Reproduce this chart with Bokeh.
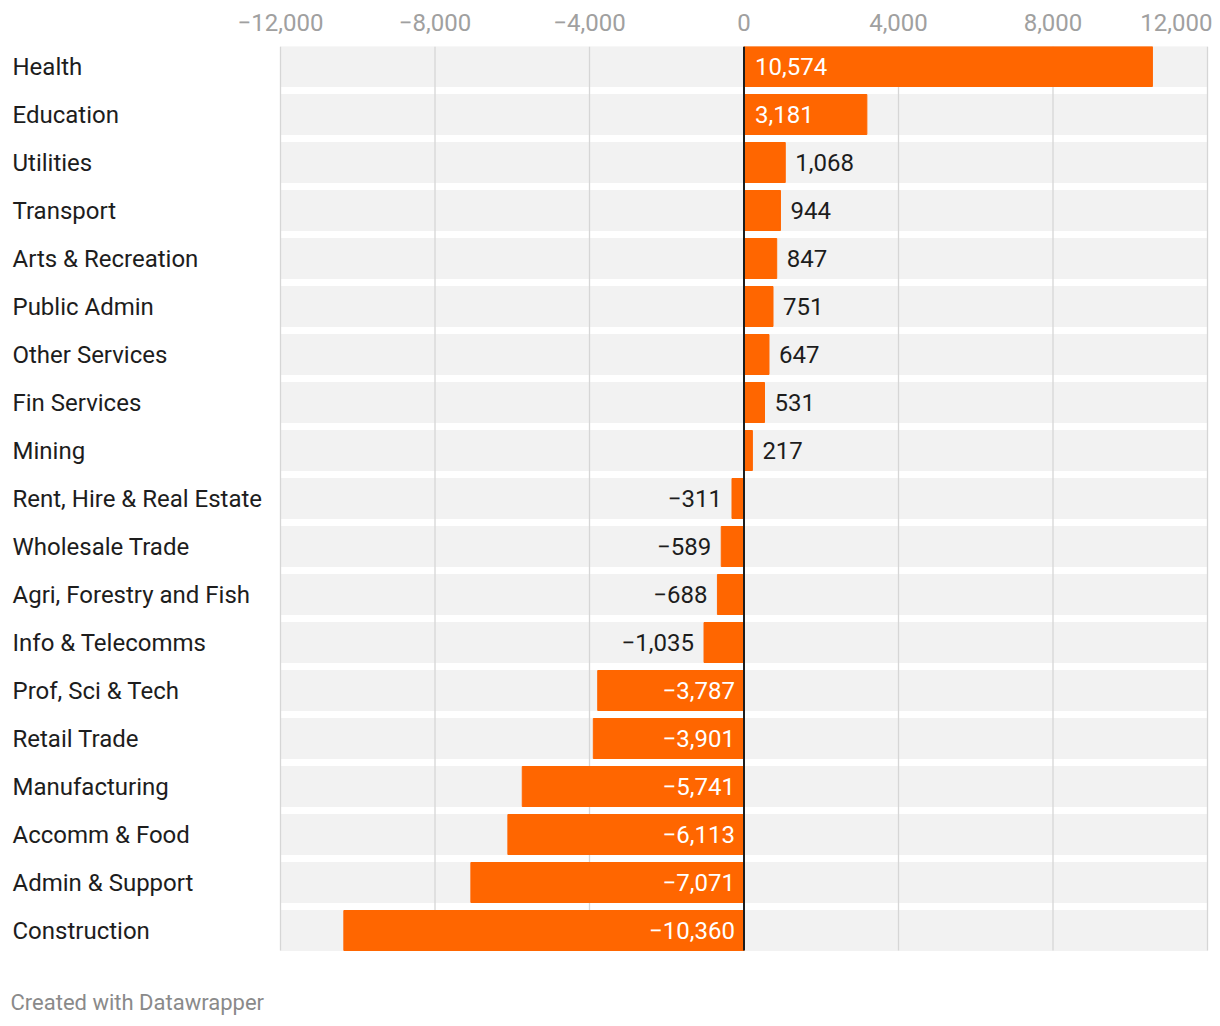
from bokeh.plotting import figure
from bokeh.models import ColumnDataSource, Range1d, FixedTicker
from bokeh.core.properties import value
from bokeh.embed import file_html
from bokeh.resources import INLINE

categories = ["Health", "Education", "Utilities", "Transport", "Arts & Recreation",
              "Public Admin", "Other Services", "Fin Services", "Mining",
              "Rent, Hire & Real Estate", "Wholesale Trade", "Agri, Forestry and Fish",
              "Info & Telecomms", "Prof, Sci & Tech", "Retail Trade", "Manufacturing",
              "Accomm & Food", "Admin & Support", "Construction"]
values = [10574, 3181, 1068, 944, 847, 751, 647, 531, 217,
          -311, -589, -688, -1035, -3787, -3901, -5741, -6113, -7071, -10360]
tick_values = [-12000, -8000, -4000, 0, 4000, 8000, 12000]
footer_text = "Created with Datawrapper"

ORANGE = "#ff6600"
FONT = "Roboto"
FS = "24px"

n = len(categories)
h = 40 / 48
ypos = list(range(n))
xmin, xmax = tick_values[0], tick_values[-1]

def fmt(v):
    return f"{v:,}".replace("-", "\u2212")

# layout constants (pixel mapping)
W, H, TOP, ROW = 1212, 1016, 46, 48
k = (1207 - 280) / (xmax - xmin)
x_start = xmin - 280 / k
x_end = xmax + (W - 1207) / k
y_top = -h / 2
y_bottom = y_top + (H - TOP) / ROW
y_footer = y_top + (1002 - TOP) / ROW

p = figure(width=W, height=H, output_backend="svg", toolbar_location=None,
           x_range=Range1d(x_start, x_end),
           y_range=Range1d(y_bottom, y_top),
           x_axis_location="above",
           min_border_left=0, min_border_right=0, min_border_top=TOP, min_border_bottom=0)
p.outline_line_color = None
p.xgrid.visible = False
p.ygrid.visible = False
p.yaxis.visible = False

ax = p.xaxis[0]
ax.ticker = FixedTicker(ticks=tick_values)
ax.major_label_overrides = {t: fmt(t) for t in tick_values}
ax.axis_line_color = None
ax.major_tick_line_color = None
ax.minor_tick_line_color = None
ax.major_label_text_font = FONT
ax.major_label_text_font_size = FS
ax.major_label_text_color = "#a0a0a0"
ax.major_label_standoff = 10

# background rows
p.hbar(y=ypos, left=xmin, right=xmax, height=h, color="#f2f2f2")

# gridlines
grid_x = [t for t in tick_values if t != 0]
p.segment(x0=grid_x, x1=grid_x, y0=[-h / 2] * len(grid_x), y1=[n - 1 + h / 2] * len(grid_x),
          line_color="#d6d6d6", line_width=1.3)

# bars
p.hbar(y=ypos, left=0, right=values, height=h, color=ORANGE)

# zero line
p.segment(x0=[0], x1=[0], y0=[-h / 2], y1=[n - 1 + h / 2], line_color="#1d1d1d", line_width=2)

# value labels
inside = [abs(v) > 2000 for v in values]
pos_in = dict(x=[], y=[], t=[])
pos_out = dict(x=[], y=[], t=[])
neg_in = dict(x=[], y=[], t=[])
neg_out = dict(x=[], y=[], t=[])
for y, v, ins in zip(ypos, values, inside):
    if v >= 0:
        d = pos_in if ins else pos_out
    else:
        d = neg_in if ins else neg_out
    d["x"].append(0 if ins else v)
    d["y"].append(y)
    d["t"].append(fmt(v))

common = dict(text_font=value(FONT), text_font_size=FS, text_baseline="middle")
p.text(x="x", y="y", text="t", source=ColumnDataSource(pos_in), text_align="left",
       x_offset=11, text_color="white", **common)
p.text(x="x", y="y", text="t", source=ColumnDataSource(pos_out), text_align="left",
       x_offset=10, text_color="#1d1d1d", **common)
p.text(x="x", y="y", text="t", source=ColumnDataSource(neg_in), text_align="right",
       x_offset=-9, text_color="white", **common)
p.text(x="x", y="y", text="t", source=ColumnDataSource(neg_out), text_align="right",
       x_offset=-10, text_color="#1d1d1d", **common)

# category labels
p.text(x=[x_start] * n, y=ypos, text=categories, text_align="left", x_offset=12,
       text_color="#1d1d1d", **common)

# footer
p.text(x=[x_start], y=[y_footer], text=[footer_text], text_align="left", x_offset=10,
       text_color="#8a8a8a", text_font=value(FONT), text_font_size="22px",
       text_baseline="middle")

open("out.html", "w").write(file_html(p, INLINE))
